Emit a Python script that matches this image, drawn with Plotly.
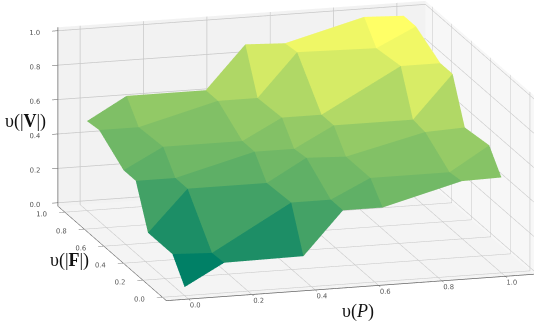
import plotly.graph_objects as go

x_vals = [0, 0.125, 0.375, 0.5, 0.625, 0.875, 1]
y_vals = [1, 0.875, 0.625, 0.5, 0.375, 0.125, 0]
z_rows = [
    [0.50, 0.63, 0.63, 0.88, 0.87, 0.99, 0.98],
    [0.51, 0.51, 0.63, 0.63, 0.88, 0.87, 0.98],
    [0.40, 0.52, 0.52, 0.64, 0.64, 0.89, 0.89],
    [0.40, 0.40, 0.52, 0.52, 0.64, 0.64, 0.89],
    [0.16, 0.40, 0.40, 0.53, 0.52, 0.63, 0.64],
    [0.16, 0.15, 0.41, 0.41, 0.52, 0.52, 0.66],
    [0.03, 0.155, 0.16, 0.41, 0.41, 0.53, 0.535],
]
ticks = [0, 0.2, 0.4, 0.6, 0.8, 1.0]
tick_text = ["0.0", "0.2", "0.4", "0.6", "0.8", "1.0"]
summer = [[0, "rgb(0,128,102)"], [1, "rgb(255,255,102)"]]

nx, ny = len(x_vals), len(y_vals)
X, Y, Z, I, J, K, cell = [], [], [], [], [], [], []
for r in range(ny):
    for c in range(nx):
        X.append(x_vals[c]); Y.append(y_vals[r]); Z.append(z_rows[r][c])
for r in range(ny - 1):
    for c in range(nx - 1):
        a = r * nx + c
        b, d, e = a + 1, a + nx, a + nx + 1
        m = (Z[a] + Z[b] + Z[d] + Z[e]) / 4
        I += [a, a]; J += [b, e]; K += [e, d]; cell += [m, m]

fig = go.Figure(go.Mesh3d(
    x=X, y=Y, z=Z, i=I, j=J, k=K,
    intensity=cell, intensitymode="cell", colorscale=summer, showscale=False,
    flatshading=True,
    lighting=dict(ambient=1, diffuse=0, specular=0, fresnel=0, roughness=1),
    hoverinfo="skip",
))

def axis(rng, bg):
    return dict(
        range=rng, tickvals=ticks, ticktext=tick_text, title=dict(text=""), tickangle=0,
        showbackground=True, backgroundcolor=bg,
        gridcolor="#c8c8c8", gridwidth=1.5, showline=True, linecolor="#666666", linewidth=1.5,
        zeroline=False, ticks="outside", ticklen=6, tickcolor="#555555",
        tickfont=dict(family="DejaVu Sans", size=9, color="#555555"),
        showspikes=False,
    )

title_font = dict(family="Liberation Serif", size=18, color="#111111")
notes = [
    ("υ(|<b>V</b>|)", 25, 121),
    ("υ(|<b>F</b>|)", 70, 260),
    ("υ(<i>P</i>)", 358, 311),
]
R = 1.8
S = 2.47 / 1.072
cx, cy, cz = -0.129, 0.015, -0.072
fig.update_layout(
    width=550, height=326,
    margin=dict(l=0, r=0, t=0, b=0),
    paper_bgcolor="white",
    scene=dict(
        domain=dict(x=[0, 1], y=[0, 1]),
        xaxis=axis([-0.07, 1.09], "#f7f7f7"),
        yaxis=axis([-0.04, 1.07], "#f2f2f2"),
        zaxis=axis([-0.02, 1.02], "#f4f4f4"),
        aspectmode="manual",
        aspectratio=dict(x=1.018 * S, y=1.046 * S, z=0.492 * S),
        camera=dict(
            projection=dict(type="orthographic"),
            eye=dict(x=-0.267 * R + cx, y=-0.930 * R + cy, z=0.25 * R + cz),
            center=dict(x=cx, y=cy, z=cz),
        ),
    ),
    annotations=[dict(text=t, x=px / 550, y=1 - py / 326, xref="paper", yref="paper",
                      xanchor="center", yanchor="middle",
                      showarrow=False, font=title_font) for t, px, py in notes],
)
fig.write_html("out.html", config={"displayModeBar": False},
               post_script="document.body.style.margin='0';")
